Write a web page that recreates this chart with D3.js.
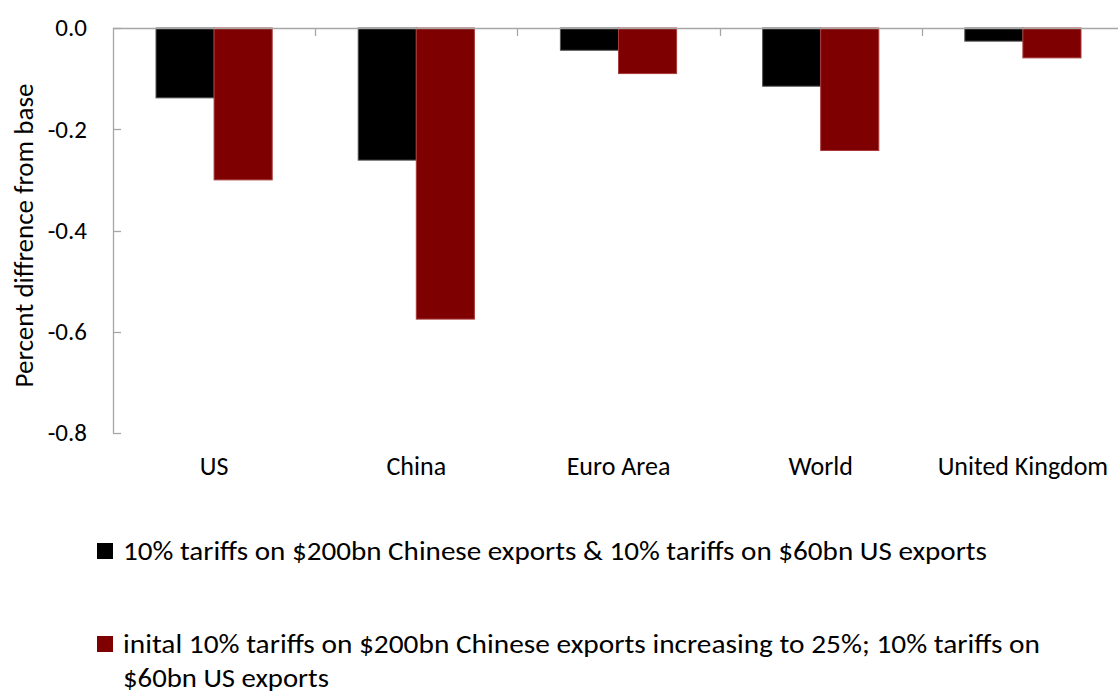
<!DOCTYPE html>
<html>
<head>
<meta charset="utf-8">
<script src="https://cdn.jsdelivr.net/npm/d3@7"></script>
<style>
  html, body { margin: 0; padding: 0; background: #fff; }
  svg { display: block; font-family: Carlito, Lato, "Open Sans", sans-serif; }
</style>
</head>
<body>
<svg id="chart" width="1118" height="693"></svg>
<script>
// Output impact by region under two tariff scenarios
const categories = ["US", "China", "Euro Area", "World", "United Kingdom"];
const seriesNames = [
  "10% tariffs on $200bn Chinese exports & 10% tariffs on $60bn US exports",
  "inital 10% tariffs on $200bn Chinese exports increasing to 25%; 10% tariffs on $60bn US exports"
];
const scenarioA = [-0.138, -0.261, -0.044, -0.115, -0.026];
const scenarioB = [-0.300, -0.575, -0.090, -0.242, -0.059];
const yTicks = [0.0, -0.2, -0.4, -0.6, -0.8];
const colors = ["#000000", "#7f0000"];
const strokes = ["#555555", "#a83a3a"];

const svg = d3.select("#chart");
const plotLeft = 113, plotTop = 28, plotBottom = 433, plotRight = 1124;

const x = d3.scaleBand().domain(categories).range([plotLeft, plotRight]).paddingInner(0).paddingOuter(0);
const y = d3.scaleLinear().domain([-0.8, 0]).range([plotBottom, plotTop]);
const inner = d3.scaleBand().domain([0, 1]).range([0, x.bandwidth()]).paddingInner(0).paddingOuter(0.74);

const axisColor = "#a6a6a6";

// y axis: line, inward ticks and labels
const yAxis = svg.append("g");
yAxis.append("line")
  .attr("x1", plotLeft + 0.5).attr("x2", plotLeft + 0.5)
  .attr("y1", plotTop).attr("y2", plotBottom)
  .attr("stroke", axisColor).attr("stroke-width", 1.3);
yAxis.selectAll("line.tick").data(yTicks).join("line")
  .attr("class", "tick")
  .attr("x1", plotLeft).attr("x2", plotLeft + 8)
  .attr("y1", d => Math.round(y(d)) + 0.5).attr("y2", d => Math.round(y(d)) + 0.5)
  .attr("stroke", axisColor).attr("stroke-width", 1.3);
yAxis.selectAll("text").data(yTicks).join("text")
  .attr("x", 87).attr("y", d => y(d))
  .attr("dy", "0.33em")
  .attr("text-anchor", "end")
  .attr("font-size", 25)
  .attr("fill", "#000")
  .text(d => d3.format(".1f")(d).replace("−", "-"));

svg.append("text")
  .attr("transform", `translate(33,${(plotTop + plotBottom) / 2 + 5}) rotate(-90)`)
  .attr("text-anchor", "middle")
  .attr("font-size", 27)
  .text("Percent diffrence from base");

// bars
const groups = svg.selectAll("g.cat").data(categories).join("g")
  .attr("class", "cat")
  .attr("transform", d => `translate(${x(d)},0)`);

[scenarioA, scenarioB].forEach((vals, si) => {
  groups.append("rect")
    .attr("x", () => inner(si))
    .attr("y", y(0))
    .attr("width", inner.bandwidth())
    .attr("height", (d, i) => y(vals[i]) - y(0))
    .attr("fill", colors[si])
    .attr("stroke", strokes[si])
    .attr("stroke-width", 1);
});

// x axis on the zero line with category boundary ticks
const xAxis = svg.append("g");
xAxis.append("line")
  .attr("x1", plotLeft).attr("x2", plotRight)
  .attr("y1", Math.round(y(0)) + 0.5).attr("y2", Math.round(y(0)) + 0.5)
  .attr("stroke", axisColor).attr("stroke-width", 1.3);
xAxis.selectAll("line.tick").data(categories.slice(1)).join("line")
  .attr("class", "tick")
  .attr("x1", d => Math.round(x(d)) + 0.5).attr("x2", d => Math.round(x(d)) + 0.5)
  .attr("y1", y(0)).attr("y2", y(0) + 8)
  .attr("stroke", axisColor).attr("stroke-width", 1.3);
xAxis.selectAll("text").data(categories).join("text")
  .attr("x", d => x(d) + x.bandwidth() / 2)
  .attr("y", 475)
  .attr("text-anchor", "middle")
  .attr("font-size", 26)
  .text(d => d);

// legend
const legend = svg.append("g");
const legendRows = [
  { lines: [seriesNames[0]], widths: [864], y: 560 },
  { lines: ["inital 10% tariffs on $200bn Chinese exports increasing to 25%; 10% tariffs on", "$60bn US exports"], widths: [917, 206], y: 653 }
];
legendRows.forEach((row, i) => {
  legend.append("rect")
    .attr("x", 97).attr("y", row.y - 17)
    .attr("width", 16).attr("height", 16)
    .attr("fill", colors[i]);
  row.lines.forEach((ln, j) => {
    legend.append("text")
      .attr("x", 123).attr("y", row.y + j * 34)
      .attr("font-size", 27)
      .attr("textLength", row.widths[j])
      .attr("lengthAdjust", "spacingAndGlyphs")
      .text(ln);
  });
});
</script>
</body>
</html>
